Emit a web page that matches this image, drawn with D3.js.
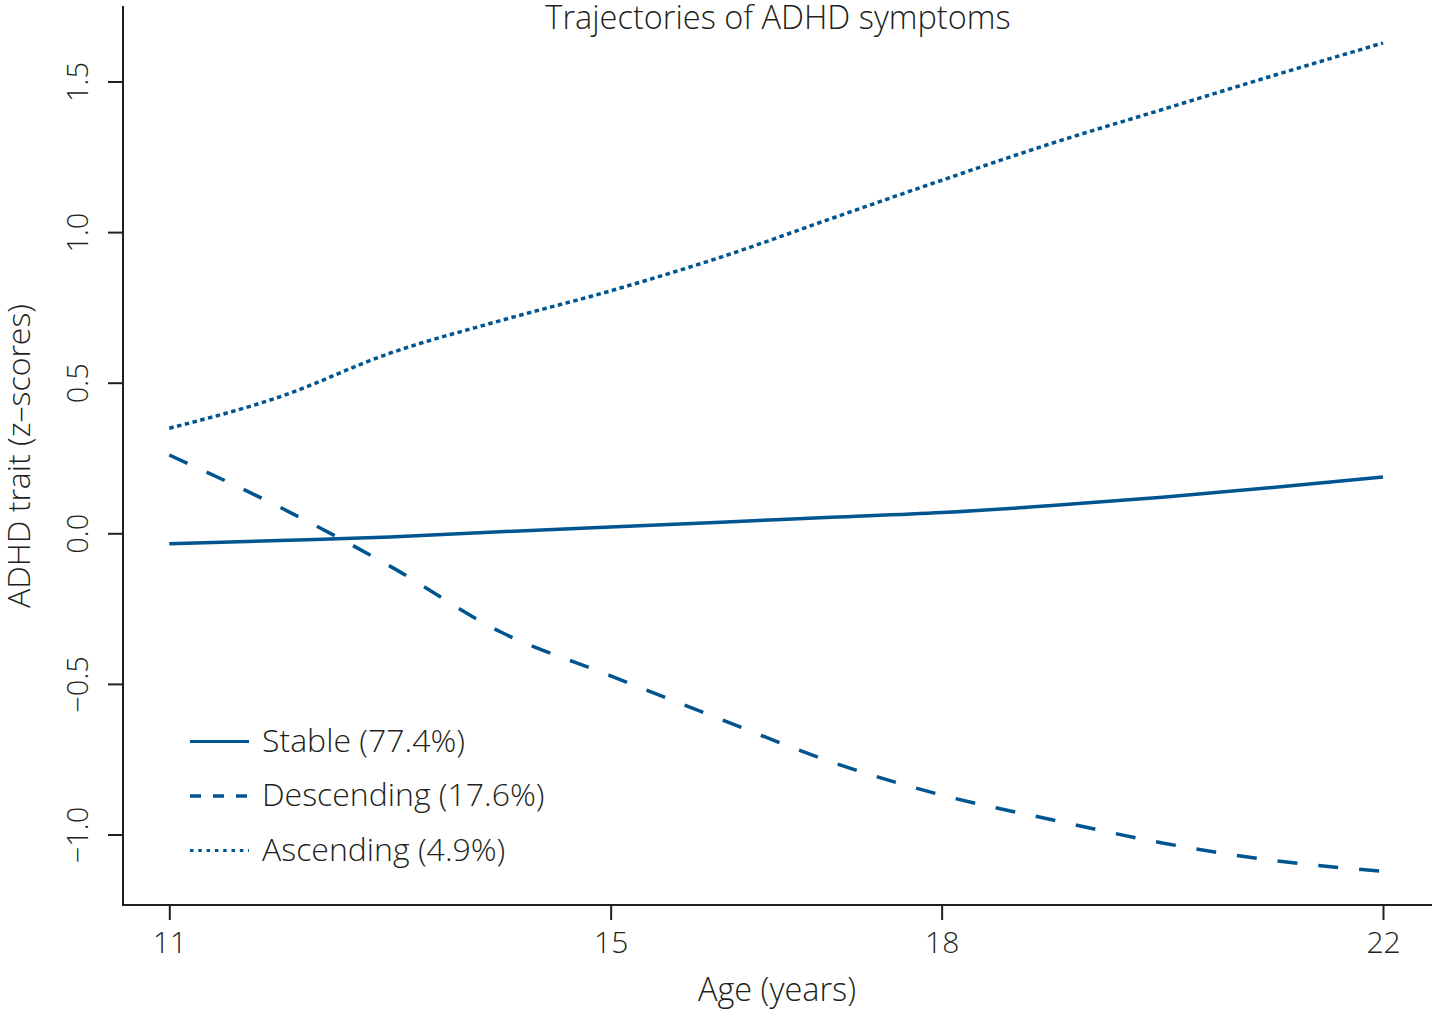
<!DOCTYPE html>
<html>
<head>
<meta charset="utf-8">
<script src="https://cdn.jsdelivr.net/npm/d3@7"></script>
<style>
  html, body { margin: 0; padding: 0; background: #fff; }
  svg { display: block; font-family: "Open Sans", sans-serif; font-weight: 300; }
</style>
</head>
<body>
<svg id="chart" width="1432" height="1011"></svg>
<script>
// values
const ages = [11, 12, 13, 14, 15, 16, 17, 18, 19, 20, 21, 22];
const stable = [-0.035, -0.024, -0.012, 0.005, 0.021, 0.037, 0.053, 0.069, 0.092, 0.120, 0.152, 0.187];
const descending = [0.260, 0.087, -0.109, -0.327, -0.473, -0.618, -0.759, -0.869, -0.951, -1.028, -1.086, -1.122];
const ascending = [0.349, 0.453, 0.598, 0.706, 0.805, 0.917, 1.045, 1.172, 1.295, 1.407, 1.519, 1.628];

const xTicks = [11, 15, 18, 22];
const yTicks = [-1.0, -0.5, 0.0, 0.5, 1.0, 1.5];
const seriesNames = ["Stable (77.4%)", "Descending (17.6%)", "Ascending (4.9%)"];

const blue = "#005591";
const ink = "#231f20";
const font = "'Open Sans', sans-serif";

const svg = d3.select("#chart");

// plot frame
const frame = { left: 123, top: 6, bottom: 905, right: 1432 };

const x = d3.scaleLinear().domain([11, 22]).range([169.3, 1383]);
const y = d3.scaleLinear().domain([0, 1.5]).range([533.3, 81.5]);

// axis lines
svg.append("line")
  .attr("x1", frame.left).attr("x2", frame.left)
  .attr("y1", frame.top).attr("y2", frame.bottom + 1)
  .attr("stroke", ink).attr("stroke-width", 2);
svg.append("line")
  .attr("x1", frame.left - 1).attr("x2", frame.right)
  .attr("y1", frame.bottom).attr("y2", frame.bottom)
  .attr("stroke", ink).attr("stroke-width", 2);

// y axis
const yAxis = svg.append("g")
  .attr("transform", `translate(${frame.left},0)`)
  .call(d3.axisLeft(y).tickValues(yTicks).tickSize(15).tickFormat(d3.format(".1f")))
  .attr("font-family", font);
yAxis.select(".domain").remove();
yAxis.selectAll(".tick line").attr("stroke", ink).attr("stroke-width", 2);
yAxis.selectAll(".tick text")
  .attr("transform", "rotate(-90)")
  .attr("x", 0).attr("y", -35).attr("dy", null)
  .attr("text-anchor", "middle")
  .attr("fill", ink)
  .style("font-weight", 300).style("font-size", "29px");

// x axis
const xAxis = svg.append("g")
  .attr("transform", `translate(0,${frame.bottom})`)
  .call(d3.axisBottom(x).tickValues(xTicks).tickSize(15))
  .attr("font-family", font);
xAxis.select(".domain").remove();
xAxis.selectAll(".tick line").attr("stroke", ink).attr("stroke-width", 2);
xAxis.selectAll(".tick text")
  .attr("y", 48).attr("dy", null)
  .attr("fill", ink)
  .style("font-weight", 300).style("font-size", "30px");

// titles
svg.append("text")
  .attr("x", 778).attr("y", 29)
  .attr("text-anchor", "middle")
  .attr("fill", ink).style("font-size", "32.5px")
  .text("Trajectories of ADHD symptoms");

svg.append("text")
  .attr("x", 777).attr("y", 1001)
  .attr("text-anchor", "middle")
  .attr("fill", ink).style("font-size", "32.5px")
  .text("Age (years)");

svg.append("text")
  .attr("transform", "translate(30,456) rotate(-90)")
  .attr("text-anchor", "middle")
  .attr("fill", ink).style("font-size", "32px")
  .text("ADHD trait (z\u2013scores)");

// trajectories
const line = d3.line()
  .x((d, i) => x(ages[i]))
  .y(d => y(d))
  .curve(d3.curveMonotoneX);

const series = [
  { name: seriesNames[0], values: stable, dash: null, keyDash: null, keyWidth: 3 },
  { name: seriesNames[1], values: descending, dash: "20,21", keyDash: "11,12", keyWidth: 3.5 },
  { name: seriesNames[2], values: ascending, dash: "4.5,3.5", keyDash: "3.5,4.8", keyWidth: 3 }
];

svg.append("g")
  .selectAll("path")
  .data(series)
  .join("path")
  .attr("d", d => line(d.values))
  .attr("fill", "none")
  .attr("stroke", blue)
  .attr("stroke-width", 3.5)
  .attr("stroke-dasharray", d => d.dash);

// legend
const legend = svg.append("g")
  .selectAll("g")
  .data(series)
  .join("g")
  .attr("transform", (d, i) => `translate(190,${741.5 + i * 54.5})`);

legend.append("line")
  .attr("x1", 0).attr("x2", 59)
  .attr("stroke", blue)
  .attr("stroke-width", d => d.keyWidth)
  .attr("stroke-dasharray", d => d.keyDash);

legend.append("text")
  .attr("x", 72).attr("y", 10)
  .attr("fill", ink).style("font-size", "32px")
  .text(d => d.name);
</script>
</body>
</html>
